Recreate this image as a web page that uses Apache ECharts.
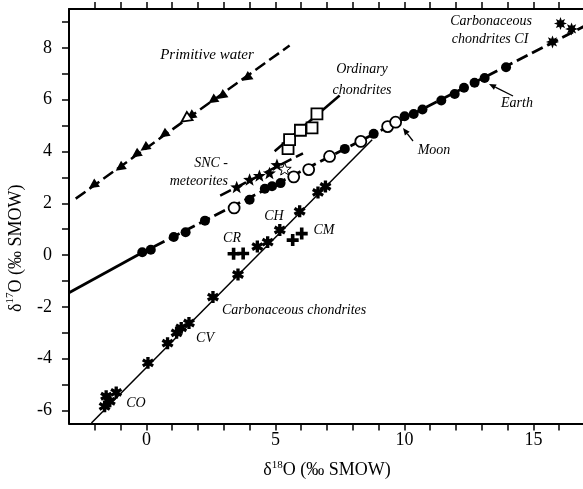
<!DOCTYPE html>
<html><head><meta charset="utf-8">
<script src="https://cdn.jsdelivr.net/npm/echarts@6/dist/echarts.min.js"></script>
<style>html,body{margin:0;padding:0;background:#fff}#c{width:583px;height:489px}</style>
</head><body><div id="c"></div>
<script>
// ---- tick labels ----
const xTickValues = [-2,-1,0,1,2,3,4,5,6,7,8,9,10,11,12,13,14,15,16];
const xLabelValues = [0,5,10,15];
const yTickValues = [-6,-5,-4,-3,-2,-1,0,1,2,3,4,5,6,7,8,9];
const yLabelValues = [-6,-4,-2,0,2,4,6,8];

// ---- data (δ18O, δ17O) ----
const primitiveWaterLine = [[-2.74,2.18],[5.55,8.09]];
const primitiveWater = [[-2.07,2.69],[-1.03,3.37],[-0.41,3.88],[-0.07,4.14],[0.67,4.65],[1.71,5.36],[2.56,5.97],[2.91,6.14],[3.88,6.84]];
const primitiveWaterOpen = [[1.52,5.26]];

const earthLineSolid = [[-3,-1.45],[-0.3,0.02]];
const earthLineDashed = [[-0.3,0.02],[17,8.85]];
const earth = [[-0.16,0.11],[0.17,0.21],[1.06,0.70],[1.52,0.88],[2.27,1.33],[4.00,2.14],[4.59,2.56],[4.87,2.66],[5.20,2.78],[7.69,4.10],[8.81,4.68],[10.01,5.36],[10.36,5.45],[10.70,5.62],[11.43,5.97],[11.95,6.22],[12.31,6.46],[12.72,6.65],[13.11,6.84],[13.94,7.25]];
const moon = [[3.40,1.82],[5.71,3.02],[6.29,3.30],[7.10,3.81],[8.31,4.39],[9.35,4.96],[9.66,5.13]];
const chondritesCI = [[15.74,8.23],[16.05,8.94],[16.48,8.73]];

const sncLine = [[2.86,2.30],[6.07,3.93]];
const snc = [[3.50,2.63],[4.00,2.92],[4.38,3.07],[4.77,3.17],[5.06,3.49]];
const sncOpen = [[5.36,3.33]];

const ordinaryLine = [[4.97,4.01],[7.49,6.16]];
const ordinary = [[5.49,4.11],[5.55,4.46],[5.97,4.82],[6.42,4.91],[6.61,5.45]];

const carbonaceousLine = [[-2.13,-6.48],[8.75,4.45]];
const carbonaceous = [[-1.62,-5.84],[-1.56,-5.45],[-1.42,-5.64],[-1.17,-5.30],[0.06,-4.16],[0.82,-3.40],[1.17,-3.00],[1.35,-2.81],[1.65,-2.62],[2.58,-1.62],[3.55,-0.75],[4.30,0.33],[4.70,0.50],[5.17,0.97],[5.94,1.69],[6.65,2.42],[6.94,2.65]];
const cr = [[3.38,0.05],[3.75,0.06]];
const cm = [[5.67,0.58],[6.02,0.83]];

// ---- symbol paths ----
function barsPath(angles, L, w){
  let s = '';
  angles.forEach(a=>{
    const r=a*Math.PI/180, dx=Math.cos(r), dy=Math.sin(r), nx=-dy, ny=dx;
    const p=[[L*dx+w*nx, L*dy+w*ny],[L*dx-w*nx, L*dy-w*ny],[-L*dx-w*nx,-L*dy-w*ny],[-L*dx+w*nx,-L*dy+w*ny]];
    s += 'M'+p.map(q=>(q[0]+20).toFixed(2)+' '+(q[1]+20).toFixed(2)).join('L')+'Z';
  });
  return 'path://'+s;
}
function starPath(n, R, r){
  const pts=[];
  for(let i=0;i<2*n;i++){
    const a=-Math.PI/2+i*Math.PI/n, rr=i%2?r:R;
    pts.push((Math.cos(a)*rr+20).toFixed(2)+' '+(Math.sin(a)*rr+20).toFixed(2));
  }
  return 'path://M'+pts.join('L')+'Z';
}
const asterisk = barsPath([90,30,150],10,2.8);
const plus = barsPath([0,90],10,3);
const star5 = starPath(5,10,4.2);
const star8 = starPath(8,10,5.2);

const FONT = 'Liberation Serif';
const black = '#000';

function lineSeries(data, width, type){
  return {type:'line', data, showSymbol:false, silent:true, z:2,
    lineStyle:{color:black, width, type, opacity:1}};
}
function scatter(data, symbol, size, filled, extra){
  return Object.assign({type:'scatter', data, symbol, symbolSize:size, symbolKeepAspect:true, z:5,
    itemStyle: filled ? {color:black, borderWidth:0, opacity:1} : {color:'#fff', borderColor:black, borderWidth:1.8, opacity:1}}, extra||{});
}

const chart = echarts.init(document.getElementById('c'), null, {renderer:'canvas'});

function txt(x,y,text,align){
  return {type:'text', x, y, style:{text, fill:black, font:'italic 14px "'+FONT+'"', textAlign:align||'center', textVerticalAlign:'middle'}, z:10};
}
function arrow(x1,y1,x2,y2){
  const dx=x2-x1, dy=y2-y1, len=Math.hypot(dx,dy), ux=dx/len, uy=dy/len;
  const hl=7, hw=3;
  const bx=x2-ux*hl, by=y2-uy*hl;
  return [
    {type:'line', shape:{x1,y1,x2:bx,y2:by}, style:{stroke:black, lineWidth:1.3}, z:10},
    {type:'polygon', shape:{points:[[x2,y2],[bx-uy*hw,by+ux*hw],[bx+uy*hw,by-ux*hw]]}, style:{fill:black}, z:10}
  ];
}

const axisNameRich = {
  a:{fontFamily:FONT, fontSize:18, color:black, lineHeight:22},
  s:{fontFamily:FONT, fontSize:11, color:black, lineHeight:13, verticalAlign:'top'}
};

chart.setOption({
  animation:false,
  backgroundColor:'#fff',
  grid:{left:69, top:9, width:516, height:414.5, containLabel:false, outerBoundsMode:'none'},
  xAxis:[{
    type:'value', min:-3, max:17, position:'bottom',
    name:'{a|δ}{s|18}{a|O (‰ SMOW)}', nameLocation:'middle', nameGap:36,
    nameTextStyle:{rich:axisNameRich},
    axisLine:{show:true, onZero:false, lineStyle:{color:black, width:2}},
    axisTick:{show:true, inside:false, length:7, customValues:xTickValues, lineStyle:{color:black, width:1.5}},
    axisLabel:{customValues:xLabelValues, fontFamily:FONT, fontSize:18, color:black, margin:8},
    splitLine:{show:false}
  },{
    type:'value', min:-3, max:17, position:'top',
    axisLine:{show:true, onZero:false, lineStyle:{color:black, width:2}},
    axisTick:{show:true, inside:false, length:7, customValues:xTickValues, lineStyle:{color:black, width:1.5}},
    axisLabel:{show:false},
    splitLine:{show:false}
  }],
  yAxis:[{
    type:'value', min:-6.5, max:9.5, position:'left',
    name:'{a|δ}{s|17}{a|O (‰ SMOW)}', nameLocation:'middle', nameGap:42, nameRotate:90,
    nameTextStyle:{rich:axisNameRich, padding:[0,64,0,0]},
    axisLine:{show:true, onZero:false, lineStyle:{color:black, width:2}},
    axisTick:{show:true, inside:false, length:7, customValues:yTickValues, lineStyle:{color:black, width:1.5}},
    axisLabel:{customValues:yLabelValues, fontFamily:FONT, fontSize:18, color:black, margin:17},
    splitLine:{show:false}
  }],
  series:[
    lineSeries(primitiveWaterLine, 2.5, [12,5]),
    scatter(primitiveWater, 'triangle', 10, true, {symbolRotate:125}),
    scatter(primitiveWaterOpen, 'triangle', 10, false, {symbolRotate:125}),
    lineSeries(earthLineSolid, 2.8, 'solid'),
    lineSeries(earthLineDashed, 2.8, [12,5]),
    scatter(earth, 'circle', 10, true),
    scatter(moon, 'circle', 11, false),
    scatter(chondritesCI, star8, 13, true),
    lineSeries(sncLine, 2.5, [12,5]),
    scatter(snc, star5, 13, true),
    scatter(sncOpen, star5, 13, false, {itemStyle:{color:'#fff', borderColor:black, borderWidth:1, opacity:1}}),
    lineSeries(ordinaryLine, 2.5, 'solid'),
    scatter(ordinary, 'rect', 11, false),
    lineSeries(carbonaceousLine, 1.5, 'solid'),
    scatter(carbonaceous, asterisk, 12, true),
    scatter(cr, plus, 12, true),
    scatter(cm, plus, 12, true)
  ],
  graphic:[
    {type:'text', x:207, y:55, style:{text:'Primitive water', fill:black, font:'italic 15px "'+FONT+'"', textAlign:'center', textVerticalAlign:'middle'}, z:10},
    txt(362,69,'Ordinary'),
    txt(362,90,'chondrites'),
    txt(228,163,'SNC -','right'),
    txt(228,181,'meteorites','right'),
    txt(232,238,'CR'),
    txt(274,216,'CH'),
    txt(324,230,'CM'),
    txt(222,310,'Carbonaceous chondrites','left'),
    txt(205,338,'CV'),
    txt(136,403,'CO'),
    txt(517,103,'Earth'),
    txt(434,150,'Moon'),
    txt(491,21,'Carbonaceous'),
    txt(490,39,'chondrites CI'),
    ...arrow(513,96,489,84),
    ...arrow(413,141,403,128)
  ]
});
</script>
</body></html>
